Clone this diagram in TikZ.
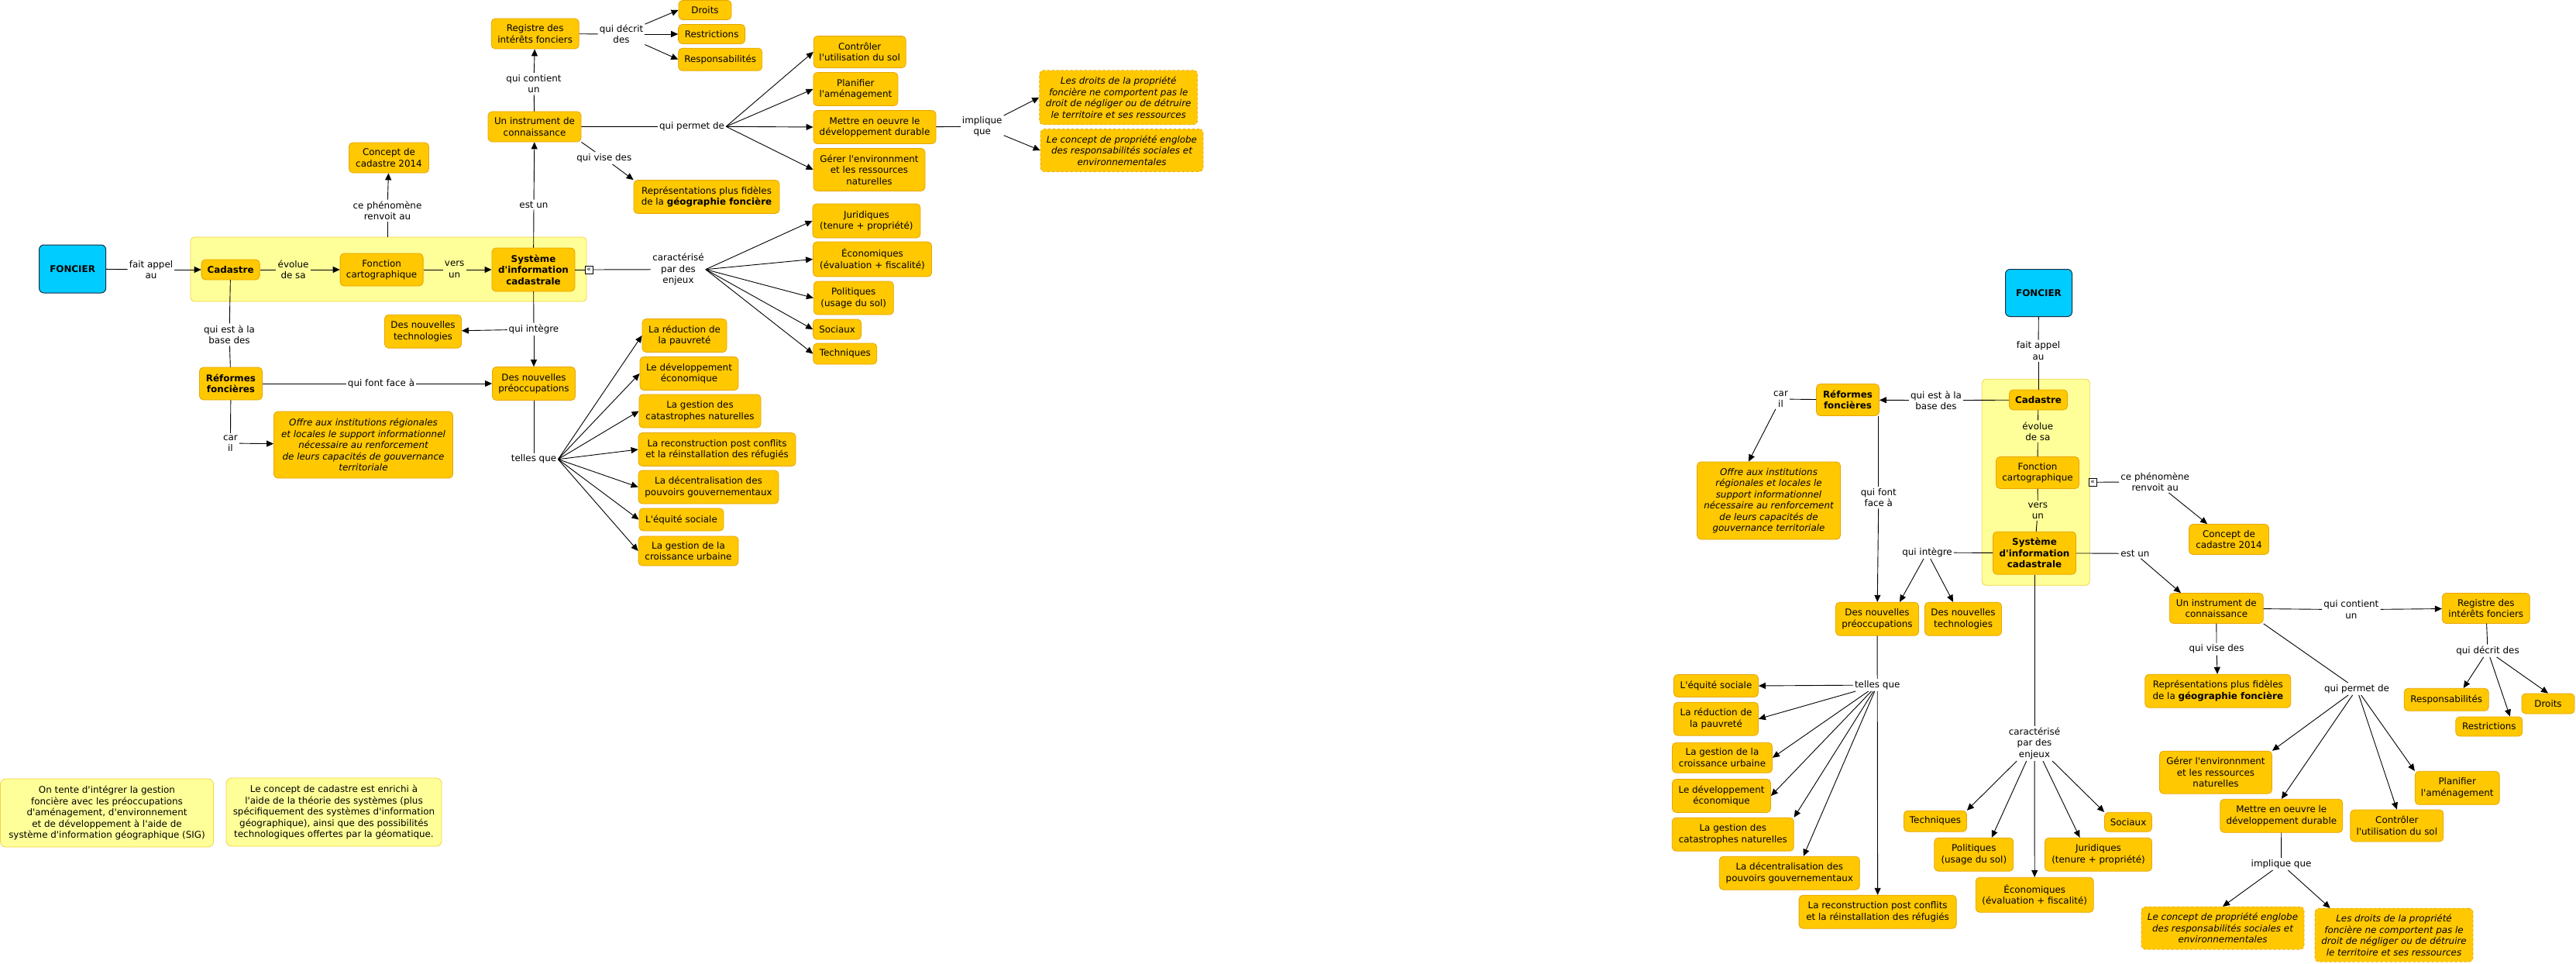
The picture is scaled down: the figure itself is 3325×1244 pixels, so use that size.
\documentclass[tikz,border=0pt]{standalone}
\usepackage{fontspec}
\setmainfont[Ligatures=TeXOff]{DejaVu Sans}
\usetikzlibrary{arrows.meta}
\definecolor{boxfill}{RGB}{255,200,0}
\definecolor{boxdraw}{RGB}{230,165,0}
\definecolor{grpfill}{RGB}{255,255,153}
\definecolor{grpdraw}{RGB}{238,212,70}
\definecolor{fonfill}{RGB}{0,204,255}
\definecolor{fondraw}{RGB}{25,45,70}
\tikzset{
  every node/.style={font=\fontsize{11.9}{14.5}\selectfont},
  sz/.style 2 args={minimum width=#1pt, minimum height=#2pt},
  cbox/.style={draw=boxdraw, fill=boxfill, rounded corners=5pt, align=center, inner xsep=3pt, inner ysep=2pt, line width=0.8pt},
  bbox/.style={cbox, font=\fontsize{11.9}{14.5}\selectfont\bfseries},
  itbox/.style={cbox, font=\fontsize{11.9}{14.5}\selectfont\itshape},
  dbox/.style={itbox, dashed},
  fon/.style={draw=fondraw, fill=fonfill, rounded corners=6pt, line width=1pt, font=\fontsize{11.9}{14.5}\selectfont\bfseries},
  grp/.style={draw=grpdraw, fill=grpfill, rounded corners=5pt, line width=0.8pt},
  note/.style={draw=grpdraw, fill=grpfill, rounded corners=7pt, align=center, line width=0.8pt, inner sep=3pt},
  lbl/.style={inner sep=2pt, align=center},
  icon/.style={draw, fill=white, inner sep=0pt, minimum size=10pt, line width=0.8pt, font=\fontsize{9}{9}\selectfont},
  ln/.style={line width=0.9pt, draw=black},
  arr/.style={ln, -{Triangle[length=9pt,width=8pt]}}
}
\begin{document}
\begin{tikzpicture}[x=1pt,y=-1pt]
\useasboundingbox (0,0) rectangle (3325,1244);
\fill[white] (0,0) rectangle (3325,1244);

%================ LEFT MAP =================
\node[grp, sz={511}{83}] (Lgrp) at (501.5,347.5) {};
\node[fon, sz={86}{62}] (Lfon) at (93.6,347) {FONCIER};
\node[bbox, sz={75}{26}] (Lcad) at (297.6,348) {Cadastre};
\node[cbox, sz={107}{42}] (Lfct) at (492.6,348) {Fonction\\cartographique};
\node[bbox, sz={107}{56}] (Lsic) at (688.5,348) {Système\\d'information\\cadastrale};
\node[cbox, sz={103}{39}] (Lc14) at (502,203.5) {Concept de\\cadastre 2014};
\node[cbox, sz={120}{39}] (Lins) at (690,163.5) {Un instrument de\\connaissance};
\node[cbox, sz={113}{39}] (Lreg) at (690.7,43.5) {Registre des\\intérêts fonciers};
\node[cbox, sz={68}{25}] (Ldro) at (910,13) {Droits};
\node[cbox, sz={86}{25}] (Lres) at (918.6,44) {Restrictions};
\node[cbox, sz={108}{29}] (Lrsp) at (929.7,76.7) {Responsabilités};
\node[cbox, sz={119}{41}] (Lctl) at (1109.7,67) {Contrôler\\l'utilisation du sol};
\node[cbox, sz={109}{43}] (Lpla) at (1104.4,115) {Planifier\\l'aménagement};
\node[cbox, sz={158}{43}] (Lmet) at (1129,164) {Mettre en oeuvre le\\développement durable};
\node[cbox, sz={144}{55}] (Lger) at (1122,219) {Gérer l'environnment\\et les ressources\\naturelles};
\node[dbox, sz={204}{70}] (Lldr) at (1443.7,125.8) {Les droits de la propriété\\foncière ne comportent pas le\\droit de négliger ou de détruire\\le territoire et ses ressources};
\node[dbox, sz={210}{55}] (Llco) at (1448,194) {Le concept de propriété englobe\\des responsabilités sociales et\\environnementales};
\node[cbox, sz={188}{43}] (Lrep) at (912,254) {Représentations plus fidèles\\de la \textbf{géographie foncière}};
\node[cbox, sz={139}{44}] (Ljur) at (1118.4,285) {Juridiques\\(tenure + propriété)};
\node[cbox, sz={153}{45}] (Leco) at (1126,334.5) {Économiques\\(évaluation + fiscalité)};
\node[cbox, sz={103}{43}] (Lpol) at (1101.8,384.5) {Politiques\\(usage du sol)};
\node[cbox, sz={62}{26}] (Lsoc) at (1080.6,425) {Sociaux};
\node[cbox, sz={82}{27}] (Ltec) at (1090.8,456.5) {Techniques};
\node[cbox, sz={99}{43}] (Lnte) at (546,427.7) {Des nouvelles\\technologies};
\node[bbox, sz={81}{42}] (Lref) at (298,495) {Réformes\\foncières};
\node[cbox, sz={107}{43}] (Lpre) at (689,495) {Des nouvelles\\préoccupations};
\node[itbox, sz={231}{86}] (Loff) at (469,574) {Offre aux institutions régionales\\et locales le support informationnel\\nécessaire au renforcement\\de leurs capacités de gouvernance\\territoriale};
\node[cbox, sz={109}{43}] (Lpau) at (883.5,433) {La réduction de\\la pauvreté};
\node[cbox, sz={127}{43}] (Ldev) at (889.5,482) {Le développement\\économique};
\node[cbox, sz={157}{43}] (Lcat) at (903.5,530.5) {La gestion des\\catastrophes naturelles};
\node[cbox, sz={203}{43}] (Lrec) at (925.5,580) {La reconstruction post conflits\\et la réinstallation des réfugiés};
\node[cbox, sz={181}{43}] (Ldec) at (914.5,628.5) {La décentralisation des\\pouvoirs gouvernementaux};
\node[cbox, sz={109}{29}] (Lequ) at (879.5,670.5) {L'équité sociale};
\node[cbox, sz={129}{38}] (Lcro) at (888.5,711) {La gestion de la\\croissance urbaine};
\node[note, sz={275}{88}] (Ln1) at (138,1049) {On tente d'intégrer la gestion\\foncière avec les préoccupations\\d'aménagement, d'environnement\\et de développement à l'aide de\\système d'information géographique (SIG)};
\node[note, sz={278}{88}] (Ln2) at (431,1048) {Le concept de cadastre est enrichi à\\l'aide de la théorie des systèmes (plus\\spécifiquement des systèmes d'information\\géographique), ainsi que des possibilités\\technologiques offertes par la géomatique.};

\node[lbl] (La1) at (195,348) {fait appel\\au};
\node[lbl] (La2) at (378.6,348) {évolue\\de sa};
\node[lbl] (La3) at (586.7,348) {vers\\un};
\node[lbl] (La4) at (500,272) {ce phénomène\\renvoit au};
\node[lbl] (La5) at (689,264) {est un};
\node[lbl] (La6) at (689,108) {qui contient\\un};
\node[lbl] (La7) at (802,44) {qui décrit\\des};
\node[lbl] (La8) at (893,163.3) {qui permet de};
\node[lbl] (La9) at (779.8,204) {qui vise des};
\node[lbl] (La10) at (1267.7,163.3) {implique\\que};
\node[lbl] (La11) at (875.5,347.7) {caractérisé\\par des\\enjeux};
\node[lbl] (La12) at (296,432) {qui est à la\\base des};
\node[lbl] (La13) at (689,425) {qui intègre};
\node[lbl] (La14) at (492,495) {qui font face à};
\node[lbl] (La15) at (297.4,572) {car\\il};
\node[lbl] (La16) at (689,592.7) {telles que};
\node[icon] (Lico) at (760,348) {«};

\draw[ln] (Lfon) -- (La1); \draw[arr] (La1) -- (Lcad);
\draw[ln] (Lcad) -- (La2); \draw[arr] (La2) -- (Lfct);
\draw[ln] (Lfct) -- (La3); \draw[arr] (La3) -- (Lsic);
\draw[ln] (La4) -- (La4 |- Lgrp.north); \draw[arr] (La4) -- (Lc14);
\draw[ln] (Lsic) -- (La5); \draw[arr] (La5) -- (Lins);
\draw[ln] (Lins) -- (La6); \draw[arr] (La6) -- (Lreg);
\draw[ln] (Lreg) -- (La7);
\draw[arr] (La7) -- (Ldro.west); \draw[arr] (La7) -- (Lres.west); \draw[arr] (La7) -- (Lrsp.west);
\draw[ln] (Lins) -- (La8);
\draw[arr] (La8.east) -- (Lctl.west); \draw[arr] (La8.east) -- (Lpla.west);
\draw[arr] (La8.east) -- (Lmet.west); \draw[arr] (La8.east) -- (Lger.west);
\draw[ln] (Lmet) -- (La10);
\draw[arr] (La10) -- (Lldr.west); \draw[arr] (La10) -- (Llco.west);
\draw[ln] (Lins.south east) -- (La9); \draw[arr] (La9) -- (Lrep.north west);
\draw[ln] (Lsic) -- (Lico); \draw[ln] (Lico) -- (La11);
\draw[arr] (La11.east) -- (Ljur.west); \draw[arr] (La11.east) -- (Leco.west);
\draw[arr] (La11.east) -- (Lpol.west); \draw[arr] (La11.east) -- (Lsoc.west);
\draw[arr] (La11.east) -- (Ltec.west);
\draw[ln] (Lsic) -- (La13); \draw[arr] (La13) -- (Lnte); \draw[arr] (La13) -- (Lpre);
\draw[ln] (Lcad) -- (La12); \draw[ln] (La12) -- (Lref);
\draw[ln] (Lref) -- (La14); \draw[arr] (La14) -- (Lpre);
\draw[ln] (Lref) -- (La15); \draw[arr] (La15) -- (Loff);
\draw[ln] (Lpre) -- (La16);
\draw[arr] (La16.east) -- (Lpau.west); \draw[arr] (La16.east) -- (Ldev.west);
\draw[arr] (La16.east) -- (Lcat.west); \draw[arr] (La16.east) -- (Lrec.west);
\draw[arr] (La16.east) -- (Ldec.west); \draw[arr] (La16.east) -- (Lequ.west);
\draw[arr] (La16.east) -- (Lcro.west);

%================ RIGHT MAP =================
\node[grp, sz={139}{266}] (Rgrp) at (2627.8,622.3) {};
\node[fon, sz={86}{61}] (Rfon) at (2631.5,378) {FONCIER};
\node[bbox, sz={75}{26}] (Rcad) at (2631,516) {Cadastre};
\node[cbox, sz={107}{41}] (Rfct) at (2630,610) {Fonction\\cartographique};
\node[bbox, sz={107}{55}] (Rsic) at (2626,713.7) {Système\\d'information\\cadastrale};
\node[cbox, sz={107}{43}] (Rpre) at (2423,798.7) {Des nouvelles\\préoccupations};
\node[cbox, sz={99}{43}] (Rnte) at (2534,798.7) {Des nouvelles\\technologies};
\node[bbox, sz={81}{41}] (Rref) at (2385,516) {Réformes\\foncières};
\node[itbox, sz={185}{100}] (Roff) at (2283,646) {Offre aux institutions\\régionales et locales le\\support informationnel\\nécessaire au renforcement\\de leurs capacités de\\gouvernance territoriale};
\node[cbox, sz={103}{39}] (Rc14) at (2877,696) {Concept de\\cadastre 2014};
\node[cbox, sz={121}{39}] (Rins) at (2860.8,785) {Un instrument de\\connaissance};
\node[cbox, sz={113}{39}] (Rreg) at (3208.8,785) {Registre des\\intérêts fonciers};
\node[cbox, sz={188}{43}] (Rrep) at (2862.8,891.7) {Représentations plus fidèles\\de la \textbf{géographie foncière}};
\node[cbox, sz={109}{29}] (Rrsp) at (3157.7,902.8) {Responsabilités};
\node[cbox, sz={68}{26}] (Rdro) at (3289,908) {Droits};
\node[cbox, sz={86}{25}] (Rres) at (3212.8,937.5) {Restrictions};
\node[cbox, sz={145}{55}] (Rger) at (2860,996.7) {Gérer l'environnment\\et les ressources\\naturelles};
\node[cbox, sz={158}{43}] (Rmet) at (2944.8,1052.8) {Mettre en oeuvre le\\développement durable};
\node[cbox, sz={120}{41}] (Rctl) at (3093.8,1065.5) {Contrôler\\l'utilisation du sol};
\node[cbox, sz={109}{43}] (Rpla) at (3171.7,1016.8) {Planifier\\l'aménagement};
\node[dbox, sz={210}{55}] (Rlco) at (2869,1197.7) {Le concept de propriété englobe\\des responsabilités sociales et\\environnementales};
\node[dbox, sz={204}{69}] (Rldr) at (3090,1206.7) {Les droits de la propriété\\foncière ne comportent pas le\\droit de négliger ou de détruire\\le territoire et ses ressources};
\node[cbox, sz={81}{27}] (Rtec) at (2498,1059.7) {Techniques};
\node[cbox, sz={61}{25}] (Rsoc) at (2747,1060.8) {Sociaux};
\node[cbox, sz={102}{43}] (Rpol) at (2547.8,1102.7) {Politiques\\(usage du sol)};
\node[cbox, sz={138}{43}] (Rjur) at (2708.5,1102.7) {Juridiques\\(tenure + propriété)};
\node[cbox, sz={152}{45}] (Reco) at (2626.2,1154.8) {Économiques\\(évaluation + fiscalité)};
\node[cbox, sz={109}{29}] (Requ) at (2215,885) {L'équité sociale};
\node[cbox, sz={109}{43}] (Rpau) at (2215,927.7) {La réduction de\\la pauvreté};
\node[cbox, sz={129}{39}] (Rcro) at (2223,977.8) {La gestion de la\\croissance urbaine};
\node[cbox, sz={127}{43}] (Rdev) at (2222,1027) {Le développement\\économique};
\node[cbox, sz={157}{43}] (Rcat) at (2236.8,1076.7) {La gestion des\\catastrophes naturelles};
\node[cbox, sz={181}{43}] (Rdec) at (2309.8,1126.7) {La décentralisation des\\pouvoirs gouvernementaux};
\node[cbox, sz={203}{43}] (Rrec) at (2423.6,1176.7) {La reconstruction post conflits\\et la réinstallation des réfugiés};

\node[lbl] (Ra1) at (2631,452.7) {fait appel\\au};
\node[lbl] (Ra2) at (2630.3,556.7) {évolue\\de sa};
\node[lbl] (Ra3) at (2630.3,659) {vers\\un};
\node[lbl] (Ra4) at (2499,516.7) {qui est à la\\base des};
\node[lbl] (Ra5) at (2298.5,515) {car\\il};
\node[lbl] (Ra6) at (2424.8,642.3) {qui font\\face à};
\node[lbl] (Ra7) at (2487.5,713) {qui intègre};
\node[lbl] (Ra8) at (2781.7,621.7) {ce phénomène\\renvoit au};
\node[lbl] (Ra9) at (2755.8,714.3) {est un};
\node[lbl] (Ra10) at (3034.8,786.7) {qui contient\\un};
\node[lbl] (Ra11) at (2861,837.7) {qui vise des};
\node[lbl] (Ra12) at (3042,889) {qui permet de};
\node[lbl] (Ra13) at (3211,839.7) {qui décrit des};
\node[lbl] (Ra14) at (2944.5,1115) {implique que};
\node[lbl] (Ra15) at (2626,959.3) {caractérisé\\par des\\enjeux};
\node[lbl] (Ra16) at (2423.2,884) {telles que};
\node[icon] (Rico) at (2701,622.3) {«};

\draw[ln] (Rfon) -- (Ra1); \draw[ln] (Ra1) -- (Rcad);
\draw[ln] (Rcad) -- (Ra2); \draw[ln] (Ra2) -- (Rfct);
\draw[ln] (Rfct) -- (Ra3); \draw[ln] (Ra3) -- (Rsic);
\draw[ln] (Rcad) -- (Ra4); \draw[arr] (Ra4) -- (Rref);
\draw[ln] (Rref) -- (Ra5); \draw[arr] (Ra5) -- ([xshift=-26pt]Roff.north);
\draw[ln] (Rref.south -| Ra6) -- (Ra6); \draw[arr] (Ra6) -- (Rpre);
\draw[ln] (Rsic) -- (Ra7);
\draw[arr] (Ra7) -- ([xshift=29pt]Rpre.north); \draw[arr] (Ra7) -- ([xshift=-13pt]Rnte.north);
\draw[ln] (Rico) -- (Ra8); \draw[arr] (Ra8) -- ([xshift=24pt]Rc14.north west);
\draw[ln] (Rsic) -- (Ra9); \draw[arr] (Ra9) -- ([xshift=15pt]Rins.north west);
\draw[ln] (Rins) -- (Ra10); \draw[arr] (Ra10) -- (Rreg);
\draw[ln] (Rins) -- (Ra11); \draw[arr] (Ra11) -- (Rrep);
\draw[ln] (Rins.south east) -- (Ra12);
\draw[arr] (Ra12) -- (Rger.north east); \draw[arr] (Ra12) -- (Rmet.north);
\draw[arr] (Ra12) -- (Rctl.north); \draw[arr] (Ra12) -- (Rpla.north west);
\draw[ln] (Rreg) -- (Ra13);
\draw[arr] (Ra13) -- ([xshift=22pt]Rrsp.north); \draw[arr] (Ra13) -- ([xshift=27pt]Rres.north);
\draw[arr] (Ra13) -- (Rdro.north);
\draw[ln] (Rmet) -- (Ra14);
\draw[arr] (Ra14) -- (Rlco.north); \draw[arr] (Ra14) -- ([xshift=20pt]Rldr.north west);
\draw[ln] (Rsic) -- (Ra15);
\draw[arr] (Ra15) -- (Rtec.north east); \draw[arr] (Ra15) -- ([xshift=23pt]Rpol.north);
\draw[arr] (Ra15) -- (Reco.north); \draw[arr] (Ra15) -- ([xshift=-24pt]Rjur.north);
\draw[arr] (Ra15) -- (Rsoc.north west);
\draw[ln] (Rpre) -- (Ra16);
\draw[arr] (Ra16) -- (Requ.east); \draw[arr] (Ra16) -- (Rpau.east);
\draw[arr] (Ra16) -- (Rcro.east); \draw[arr] (Ra16) -- (Rdev.east);
\draw[arr] (Ra16) -- (Rcat.north east); \draw[arr] (Ra16) -- ([xshift=18pt]Rdec.north);
\draw[arr] (Ra16) -- (Rrec.north);
\end{tikzpicture}
\end{document}
